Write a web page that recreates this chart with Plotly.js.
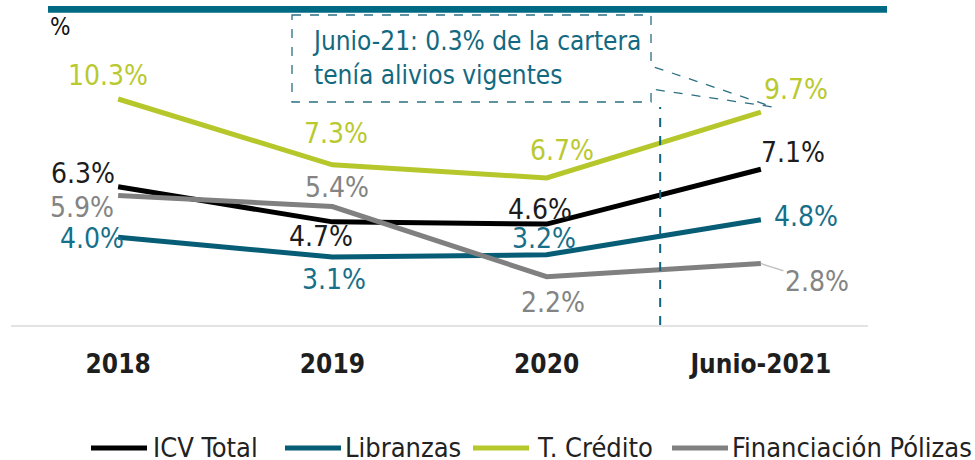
<!DOCTYPE html>
<html>
<head>
<meta charset="utf-8">
<script src="https://cdn.plot.ly/plotly-3.0.1.min.js"></script>
<style>html,body{margin:0;padding:0;background:#fff;}#chart{width:975px;height:460px;}</style>
</head>
<body>
<div id="chart"></div>
<script>
// ---- data ----
var categories = ["2018", "2019", "2020", "Junio-2021"];
var icvTotal = [6.3, 4.7, 4.6, 7.1];
var libranzas = [4.0, 3.1, 3.2, 4.8];
var tCredito = [10.3, 7.3, 6.7, 9.7];
var polizas = [5.9, 5.4, 2.2, 2.8];
var seriesNames = ["ICV Total", "Libranzas", "T. Crédito", "Financiación Pólizas"];
var noteText = "Junio-21: 0.3% de la cartera<br>tenía alivios vigentes";

// ---- styles ----
var FONT = "'DejaVu Sans Condensed', 'DejaVu Sans', sans-serif";
var lineColors = ["#000000", "#065d75", "#b6c72b", "#808080"];
var labelColors = ["#1c1c1c", "#17708a", "#b9c930", "#848484"];
var teal = "#006a85";
// label offsets in pixels [dx, dy] (screen, dy down positive)
var labelOffsets = [
  [[-35, -13], [-11, 15], [-7, -15], [32, -17]],
  [[-26, 1], [2, 23], [-3, -16], [45, -3]],
  [[-10, -23], [4, -31], [15, -27], [35, -23]],
  [[-36, 12], [5, -19], [6, 26], [56, 18]]
];
// custom legend layout (pixel x of swatch start, swatch length, text start; row y)
var PLOT_L = 11, PLOT_W = 857, PLOT_B = 325, PLOT_H = 305;
var legendSwatchX = [91, 285, 473, 672];
var legendSwatchLen = 56;
var legendTextX = [151, 343, 535, 730];
var legendY = 448;
function px2x(p) { return (p - PLOT_L) / PLOT_W; }
function px2y(p) { return (PLOT_B - p) / PLOT_H; }

var allSeries = [icvTotal, libranzas, tCredito, polizas];

var traces = allSeries.map(function (vals, i) {
  return {
    type: "scatter",
    mode: "lines",
    x: categories,
    y: vals,
    name: seriesNames[i],
    line: { color: lineColors[i], width: 5 },
    hoverinfo: "skip",
    showlegend: false
  };
});

var annotations = [];
var shapes = [];
allSeries.forEach(function (vals, i) {
  vals.forEach(function (v, j) {
    var off = labelOffsets[i][j];
    var leader = (i === 3 && j === 3);
    var a = {
      x: j, y: v, xref: "x", yref: "y",
      text: v.toFixed(1) + "%",
      font: { family: FONT, size: 28, color: labelColors[i] },
      xanchor: "center", yanchor: "middle"
    };
    if (leader) {
      a.showarrow = true;
      a.ax = off[0]; a.ay = off[1];
      a.arrowhead = 0; a.arrowwidth = 1.5; a.arrowcolor = "#c4c4c4";
      a.standoff = 0;
    } else {
      a.showarrow = false;
      a.xshift = off[0]; a.yshift = -off[1];
    }
    annotations.push(a);
  });
  // legend entry
  shapes.push({
    type: "line", xref: "paper", yref: "paper",
    x0: px2x(legendSwatchX[i]), x1: px2x(legendSwatchX[i] + legendSwatchLen),
    y0: px2y(legendY), y1: px2y(legendY),
    line: { color: lineColors[i], width: 5 }
  });
  annotations.push({
    x: px2x(legendTextX[i]), y: px2y(legendY), xref: "paper", yref: "paper",
    xanchor: "left", yanchor: "middle", showarrow: false,
    text: seriesNames[i],
    font: { family: FONT, size: 27, color: "#222" }
  });
});

annotations.push({
  x: 0.0432, y: 1.0, xref: "paper", yref: "paper",
  xanchor: "left", yanchor: "middle", yshift: -7,
  text: "%", showarrow: false,
  font: { family: FONT, size: 24, color: "#111" }
});
annotations.push({
  x: 0.349, y: 0.874, xref: "paper", yref: "paper",
  xanchor: "left", yanchor: "middle", align: "left",
  text: noteText, showarrow: false,
  font: { family: FONT, size: 26, color: "#13697f" }
});

shapes.push(
  { type: "rect", xref: "paper", yref: "paper", x0: 0.0432, x1: 1.0222, y0: 1.024, y1: 1.046,
    fillcolor: teal, line: { width: 0 } },
  { type: "path", xref: "paper", yref: "paper",
    path: "M0.3279,1.0164 L0.7468,1.0164 L0.7468,0.8492 L0.8891,0.7148 L0.7468,0.7738 L0.7468,0.7311 L0.3279,0.7311 Z",
    line: { color: "#2b6f83", width: 1.3, dash: "dash" }, fillcolor: "rgba(0,0,0,0)" },
  { type: "line", xref: "x", yref: "paper", x0: 2.53, x1: 2.53, y0: 0, y1: 0.715,
    line: { color: "#0e6580", width: 2, dash: "dash" } }
);

var layout = {
  width: 975, height: 460,
  margin: { l: 11, r: 107, t: 20, b: 135, autoexpand: false },
  paper_bgcolor: "#ffffff", plot_bgcolor: "#ffffff",
  showlegend: false,
  xaxis: {
    type: "category", range: [-0.5, 3.5], fixedrange: true,
    showline: true, linecolor: "#e3e3e3", linewidth: 2,
    showgrid: false, zeroline: false,
    ticks: "outside", ticklen: 15, tickcolor: "rgba(0,0,0,0)",
    tickfont: { family: FONT, size: 26, color: "#1e1e1e", weight: "bold" }
  },
  yaxis: {
    range: [0, 13.9], fixedrange: true,
    showgrid: false, zeroline: false, showline: false, showticklabels: false
  },
  annotations: annotations,
  shapes: shapes,
  hovermode: false
};

Plotly.newPlot("chart", traces, layout, { displayModeBar: false, staticPlot: true });
</script>
</body>
</html>
